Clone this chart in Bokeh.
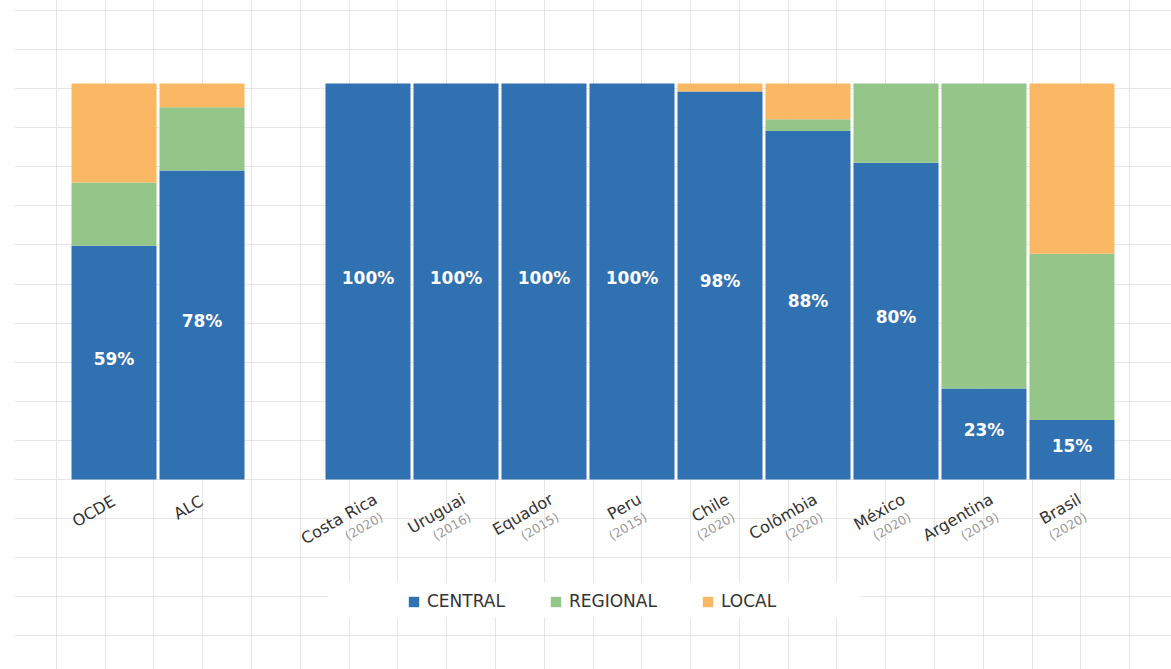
import numpy as np
from bokeh.plotting import figure
from bokeh.models import (FactorRange, Range1d, Grid, FixedTicker, CategoricalTicker, BoxAnnotation,
                          Legend, LegendItem, ColumnDataSource, LinearScale, CategoricalScale)
from bokeh.core.properties import value
from bokeh.embed import file_html
from bokeh.resources import INLINE

# ---------------- data ----------------
groups = ["agg", "agg", "pais", "pais", "pais", "pais", "pais", "pais", "pais", "pais", "pais"]
categories = ["OCDE", "ALC", "Costa Rica", "Uruguai", "Equador", "Peru", "Chile",
              "Colômbia", "México", "Argentina", "Brasil"]
years = ["", "", "(2020)", "(2016)", "(2015)", "(2015)", "(2020)", "(2020)", "(2020)", "(2019)", "(2020)"]
central = [59, 78, 100, 100, 100, 100, 98, 88, 80, 23, 15]
regional = [16, 16, 0, 0, 0, 0, 0, 3, 20, 77, 42]
local = [25, 6, 0, 0, 0, 0, 2, 9, 0, 0, 43]
series_names = ["CENTRAL", "REGIONAL", "LOCAL"]
colors = ["#3071B1", "#94C68A", "#FBB864"]

FONT = "DejaVu Sans"
GRID_COLOR = "#e6e6e6"

x = list(zip(groups, categories))
source = ColumnDataSource(dict(
    x=x, central=central, regional=regional, local=local,
    mid=[c / 2 for c in central],
    pct=[f"{c}%" for c in central],
))

W, H = 1171, 669
FRAME_LEFT = 14
ZERO_PX, HUNDRED_PX = 479, 83
pxu = (ZERO_PX - HUNDRED_PX) / 100.0

p = figure(
    x_range=FactorRange(factors=x, factor_padding=0, group_padding=0.886,
                        range_padding=0.631, range_padding_units="absolute"),
    y_range=Range1d(-(H - ZERO_PX) / pxu, ZERO_PX / pxu),
    width=W, height=H, output_backend="svg", toolbar_location=None,
    x_axis_location=None, y_axis_location=None,
    min_border_left=FRAME_LEFT, min_border_right=0, min_border_top=0, min_border_bottom=0,
    outline_line_color=None, background_fill_color="white", border_fill_color="white",
)
p.grid.visible = False

# decorative graph-paper background
grid_cols = [f"g{k}" for k in range(1, 24)]
row_lines = list(np.arange(10.3, 700, 39.03))
p.extra_x_ranges = {"gx": FactorRange(factors=grid_cols, range_padding=0.355,
                                      range_padding_units="absolute")}
p.extra_x_scales = {"gx": CategoricalScale()}
p.extra_y_ranges = {"py": Range1d(H, 0)}
p.extra_y_scales = {"py": LinearScale()}
vgrid = Grid(dimension=0, ticker=CategoricalTicker(), x_range_name="gx", y_range_name="py",
             grid_line_color=GRID_COLOR, grid_line_width=1)
hgrid = Grid(dimension=1, ticker=FixedTicker(ticks=row_lines),
             x_range_name="gx", y_range_name="py",
             grid_line_color=GRID_COLOR, grid_line_width=1)
p.add_layout(vgrid)
p.add_layout(hgrid)

# left edge of the graph paper (outside the frame)
def canvas_box(l, r, t, b, color):
    return BoxAnnotation(left=l, right=r, top=t, bottom=b,
                         left_units="canvas", right_units="canvas",
                         top_units="canvas", bottom_units="canvas",
                         fill_color=color, fill_alpha=1, line_alpha=0, level="underlay")

p.add_layout(canvas_box(7, 8, 10, H, GRID_COLOR))
for ry in row_lines:
    if ry < H:
        p.add_layout(canvas_box(7, FRAME_LEFT, ry - 0.5, ry + 0.5, GRID_COLOR))

# bars
rs = p.vbar_stack(["central", "regional", "local"], x="x", width=0.966, source=source,
                  fill_color=colors, line_color=None)

# percentage labels
p.text(x="x", y="mid", text="pct", source=source, text_align="center", text_baseline="middle",
       y_offset=-4, text_color="white", text_font_style="bold", text_font_size="17px",
       text_font=value(FONT))

# category labels (rotated)
ang = np.pi / 6
agg_src = ColumnDataSource(dict(
    x=[xx for xx, g in zip(x, groups) if g == "agg"],
    y=[0 for g in groups if g == "agg"],
    t=[c for c, g in zip(categories, groups) if g == "agg"],
))
pais_src = ColumnDataSource(dict(
    x=[xx for xx, g in zip(x, groups) if g == "pais"],
    y=[0 for g in groups if g == "pais"],
    t=[c for c, g in zip(categories, groups) if g == "pais"],
    yr=[yv for yv, g in zip(years, groups) if g == "pais"],
))
p.text(x="x", y="y", text="t", source=agg_src, angle=ang, x_offset=-5, y_offset=12,
       text_align="right", text_baseline="top", text_color="#333333",
       text_font_size="16px", text_font=value(FONT))
p.text(x="x", y="y", text="t", source=pais_src, angle=ang, x_offset=3, y_offset=10,
       text_align="right", text_baseline="top", text_color="#333333",
       text_font_size="16px", text_font=value(FONT))
p.text(x="x", y="y", text="yr", source=pais_src, angle=ang, x_offset=10, y_offset=30,
       text_align="right", text_baseline="top", text_color="#999999",
       text_font_size="12.5px", text_font=value(FONT))

# legend with white backing box (canvas units)
box = BoxAnnotation(left=327, right=860, top=582, bottom=617,
                    left_units="canvas", right_units="canvas", top_units="canvas", bottom_units="canvas",
                    fill_color="white", fill_alpha=1, line_alpha=0)
p.add_layout(box)

legend = Legend(
    items=[LegendItem(label=n, renderers=[r]) for n, r in zip(series_names, rs)],
    orientation="horizontal", location=(407 - FRAME_LEFT, H - 611),
    padding=0, margin=0, spacing=44, label_width=20, label_height=20,
    glyph_width=13, glyph_height=13, label_standoff=7,
    label_text_font_size="17px", label_text_font=FONT, label_text_color="#333333",
    background_fill_alpha=0, border_line_alpha=0,
)
p.add_layout(legend)

open("out.html", "w").write(file_html(p, INLINE))
